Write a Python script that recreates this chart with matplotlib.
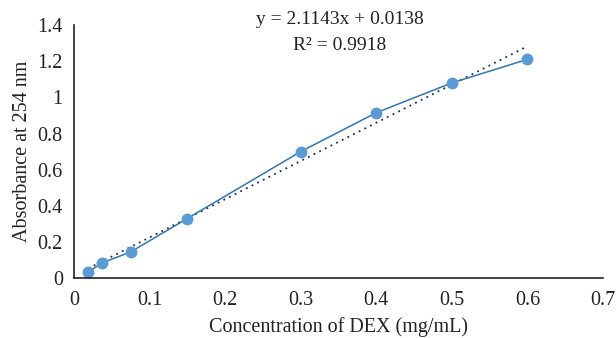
import numpy as np
import matplotlib.pyplot as plt

plt.rcParams['font.family'] = ['Liberation Serif', 'DejaVu Serif']

# concentration (mg/mL) and absorbance values
conc = [0.01875, 0.0375, 0.075, 0.15, 0.3, 0.4, 0.5, 0.6]
absorb = [0.035, 0.085, 0.145, 0.33, 0.70, 0.915, 1.08, 1.21]
slope = 2.1143
intercept = 0.0138
x_ticks = [0, 0.1, 0.2, 0.3, 0.4, 0.5, 0.6, 0.7]
x_labels = ['0', '0.1', '0.2', '0.3', '0.4', '0.5', '0.6', '0.7']
y_ticks = [0, 0.2, 0.4, 0.6, 0.8, 1.0, 1.2, 1.4]
y_labels = ['0', '0.2', '0.4', '0.6', '0.8', '1', '1.2', '1.4']

fig = plt.figure(figsize=(6.16, 3.38), dpi=100)
ax = fig.add_axes([0.120, 0.177, 0.859, 0.749])

# linear trend line
fit_x = np.array([min(conc), max(conc)])
ax.plot(fit_x, slope * fit_x + intercept, linestyle=(0, (1, 2.5)), color='#1f2d4a', linewidth=1.3)

ax.plot(conc, absorb, color='#2e75b6', linewidth=1.1, marker='o', markersize=7.5,
        markerfacecolor='#5b9bd5', markeredgecolor='#5b9bd5')

ax.set_xlim(0, 0.7)
ax.set_ylim(0, 1.4)
ax.set_xticks(x_ticks, x_labels)
ax.set_yticks(y_ticks, y_labels)
ax.tick_params(length=0, labelsize=14.5, colors='#222222')
ax.tick_params(axis='x', pad=9)
ax.tick_params(axis='y', pad=8)
for side in ['top', 'right']:
    ax.spines[side].set_visible(False)
for side in ['left', 'bottom']:
    ax.spines[side].set_color('#222222')
    ax.spines[side].set_linewidth(1.2)

ax.set_xlabel('Concentration of DEX (mg/mL)', fontsize=14.5, color='#222222', va='center')
ax.set_ylabel('Absorbance at 254 nm', fontsize=14.5, color='#222222', va='center')
ax.xaxis.set_label_coords(0.5, -0.192)
ax.yaxis.set_label_coords(-0.098, 0.5)

fig.text(340 / 616, 1 - 20 / 338, 'y = 2.1143x + 0.0138', fontsize=14, color='#222222',
         ha='center', va='center')
fig.text(340 / 616, 1 - 46 / 338, 'R² = 0.9918', fontsize=14, color='#222222',
         ha='center', va='center')

fig.savefig('out.png', dpi=100)
